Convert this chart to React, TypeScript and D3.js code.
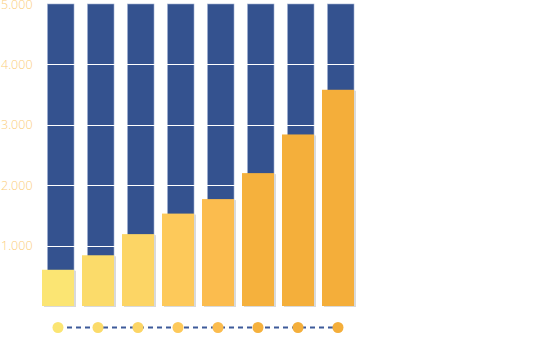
import { useEffect, useRef } from "react";
import * as d3 from "d3";

// bar values
const categories = ["A", "B", "C", "D", "E", "F", "G", "H"];
const values = [600, 840, 1190, 1530, 1770, 2200, 2840, 3580];
const barColors = [
    "#fbe573",
    "#fbdb6a",
    "#fcd565",
    "#fdc95a",
    "#fbbc4e",
    "#f5b13d",
    "#f4af3b",
    "#f4ae3a",
];
const maxValue = 5000;
const yTicks = [1000, 2000, 3000, 4000, 5000];
const yTickLabels = ["1.000", "2.000", "3.000", "4.000", "5.000"];

export default function App() {
    const svgRef = useRef<SVGSVGElement>(null);

    useEffect(() => {
        const Width = 555;
        const Height = 353;
        const svg = d3.select(svgRef.current).attr("width", Width).attr("height", Height);
        svg.selectAll("*").remove();

        const xScale = d3
            .scaleBand<string>()
            .domain(categories)
            .range([38, 358])
            .paddingInner(0.2)
            .paddingOuter(0.1);
        const yScale = d3.scaleLinear().domain([0, maxValue]).range([306, 4]);

        const bw = xScale.bandwidth();
        const bgOffset = 5.5;

        // blue background columns
        svg.append("g")
            .selectAll("rect")
            .data(categories)
            .join("rect")
            .attr("x", (d) => (xScale(d) as number) + bgOffset)
            .attr("y", yScale(maxValue))
            .attr("width", bw - bgOffset)
            .attr("height", yScale(0) - yScale(maxValue))
            .attr("fill", "#34528f")
            .attr("stroke", "#9fb0d2")
            .attr("stroke-width", 0.6);

        // white grid lines
        svg.append("g")
            .selectAll("line")
            .data(yTicks.slice(0, -1))
            .join("line")
            .attr("x1", 40)
            .attr("x2", 360)
            .attr("y1", (d) => Math.round(yScale(d)) + 0.5)
            .attr("y2", (d) => Math.round(yScale(d)) + 0.5)
            .attr("stroke", "#ffffff")
            .attr("stroke-width", 1.2);

        // shadows under the yellow bars
        svg.append("g")
            .selectAll("rect")
            .data(values)
            .join("rect")
            .attr("x", (_, i) => (xScale(categories[i]) as number) + 2)
            .attr("y", (d) => yScale(d) + 1)
            .attr("width", bw)
            .attr("height", (d) => yScale(0) - yScale(d))
            .attr("fill", "#d9d9d9");

        // yellow value bars
        svg.append("g")
            .selectAll("rect")
            .data(values)
            .join("rect")
            .attr("x", (_, i) => xScale(categories[i]) as number)
            .attr("y", (d) => yScale(d))
            .attr("width", bw)
            .attr("height", (d) => yScale(0) - yScale(d))
            .attr("fill", (_, i) => barColors[i]);

        // y labels
        svg.append("g")
            .selectAll("text")
            .data(yTicks)
            .join("text")
            .attr("x", 1)
            .attr("y", (d) => yScale(d) + 4.5)
            .attr("fill", "#fbcd7a")
            .attr("font-size", 12.5)
            .attr("font-family", "'Open Sans', sans-serif")
            .attr("font-weight", 300)
            .text((_, i) => yTickLabels[i]);

        // dashed line with dots
        const dotY = 327.5;
        const cx = (i: number) => (xScale(categories[i]) as number) + bw / 2;
        svg.append("line")
            .attr("x1", cx(0))
            .attr("x2", cx(categories.length - 1))
            .attr("y1", dotY)
            .attr("y2", dotY)
            .attr("stroke", "#3d5a9a")
            .attr("stroke-width", 2)
            .attr("stroke-dasharray", "5,4");

        svg.append("g")
            .selectAll("circle")
            .data(categories)
            .join("circle")
            .attr("cx", (_, i) => cx(i))
            .attr("cy", dotY)
            .attr("r", 5.5)
            .attr("fill", (_, i) => barColors[i]);
    }, []);

    return (
        <div style={{ position: "absolute", left: 0, top: 0 }}>
            <svg ref={svgRef} style={{ display: "block" }}></svg>
        </div>
    );
}
